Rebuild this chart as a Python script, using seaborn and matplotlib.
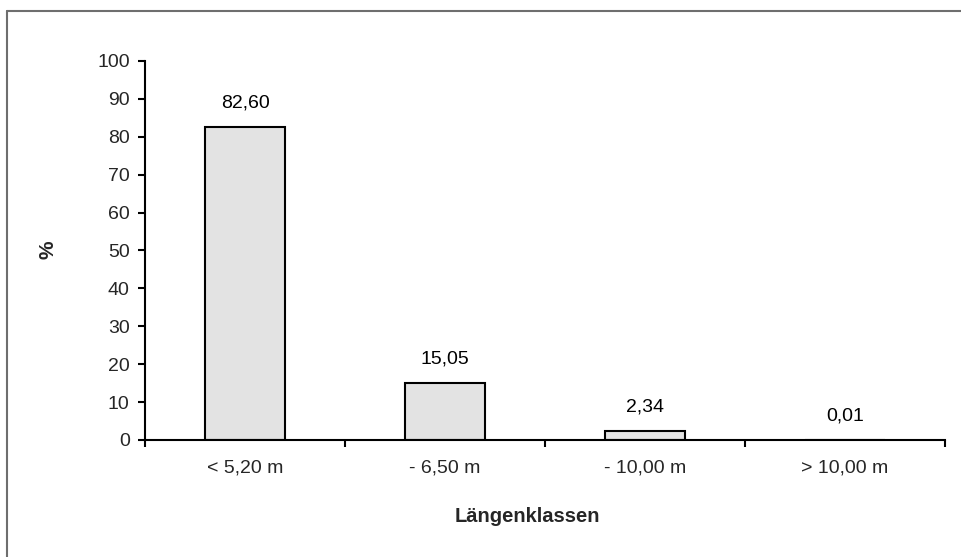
import matplotlib
matplotlib.use("Agg")
import matplotlib.pyplot as plt
import seaborn as sns
import pandas as pd
from matplotlib.lines import Line2D

categories = ["< 5,20 m", "- 6,50 m", "- 10,00 m", "> 10,00 m"]
values = [82.60, 15.05, 2.34, 0.01]
labels = ["82,60", "15,05", "2,34", "0,01"]
yticks = [0, 10, 20, 30, 40, 50, 60, 70, 80, 90, 100]

sns.set_theme(style="white")
plt.rcParams['font.family'] = ['Liberation Sans', 'DejaVu Sans']

df = pd.DataFrame({"cat": categories, "val": values})

FS = 14
fig = plt.figure(figsize=(9.62, 5.57), dpi=100)
W, H = 962, 557
fx, fy = 6.5 / W, 1 - 10.5 / H
fig.add_artist(Line2D([fx, 1.01], [fy, fy], transform=fig.transFigure, color="#6e6e6e", linewidth=1.5))
fig.add_artist(Line2D([fx, fx], [fy, -0.01], transform=fig.transFigure, color="#6e6e6e", linewidth=1.5))

ax = fig.add_axes([145 / W, (H - 440) / H, 800 / W, (440 - 61) / H])

sns.barplot(data=df, x="cat", y="val", ax=ax, color="#e3e3e3", edgecolor="black",
            linewidth=1.5, width=0.4, saturation=1)

for i, (v, lab) in enumerate(zip(values, labels)):
    ax.text(i, v + 4.0, lab, ha="center", va="bottom", fontsize=FS, color="black")

ax.set_xlim(-0.5, 3.5)
ax.set_ylim(0, 100)
ax.set_yticks(yticks)
ax.set_yticklabels([str(t) for t in yticks], fontsize=FS)
ax.set_xticks(range(len(categories)))
ax.set_xticklabels(categories, fontsize=FS)
ax.set_xticks([-0.5, 0.5, 1.5, 2.5, 3.5], minor=True)
ax.tick_params(axis="x", which="major", length=0, pad=14)
ax.tick_params(axis="x", which="minor", length=5, width=1.5, direction="out", bottom=True, color="black")
ax.tick_params(axis="y", which="major", length=5, width=1.5, direction="out", left=True, color="black", pad=6)

for s in ["top", "right"]:
    ax.spines[s].set_visible(False)
for s in ["left", "bottom"]:
    ax.spines[s].set_color("black")
    ax.spines[s].set_linewidth(1.5)

ax.set_xlabel("Längenklassen", fontsize=14.5, fontweight="bold")
ax.xaxis.label.set_va("center")
ax.xaxis.set_label_coords((527 - 145) / 800, (440 - 516) / 379)
ax.set_ylabel("%", fontsize=15, fontweight="bold")
ax.yaxis.label.set_va("center")
ax.yaxis.set_label_coords((48 - 145) / 800, (440 - 250) / 379)

fig.savefig("out.png", dpi=100)
